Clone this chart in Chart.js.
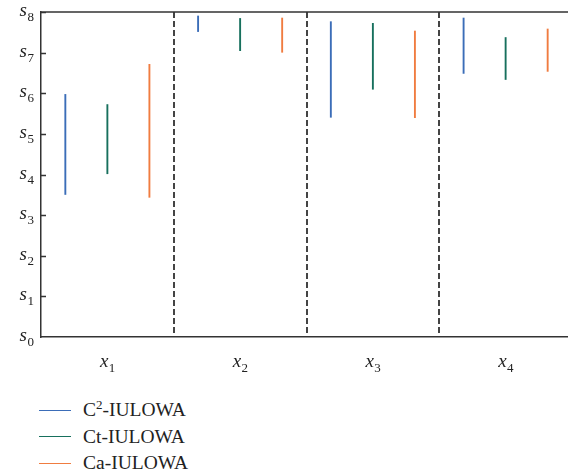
<!DOCTYPE html>
<html>
<head>
<meta charset="utf-8">
<script src="https://cdn.jsdelivr.net/npm/chart.js@4/dist/chart.umd.min.js"></script>
<style>
  html, body { margin: 0; padding: 0; background: #fff; overflow: hidden; }
  #wrap { position: relative; width: 572px; height: 475px; }
  #legend { position: absolute; left: 39px; top: 397px; font-family: "Liberation Serif", serif; font-size: 19.5px; color: #222; }
  .row { height: 26.6px; display: flex; align-items: center; }
  .swatch { width: 32px; height: 0; border-top: 1.5px solid; margin-right: 12px; }
  sup { font-size: 13px; vertical-align: 7px; line-height: 0; }
</style>
</head>
<body>
<div id="wrap">
  <canvas id="chart" width="572" height="385"></canvas>
  <div id="legend"></div>
</div>
<script>
// categories and tick labels (letter + subscript)
const categories = ['x1', 'x2', 'x3', 'x4'];
const yTickLabels = ['s0', 's1', 's2', 's3', 's4', 's5', 's6', 's7', 's8'];

// series: [low, high] interval per category
const seriesNames = ['C²-IULOWA', 'Ct-IULOWA', 'Ca-IULOWA'];
const seriesColors = ['#3b6db8', '#17705d', '#f07c40'];
const c2Ranges = [[3.50, 5.98], [7.51, 7.91], [5.40, 7.77], [6.48, 7.86]];
const ctRanges = [[4.01, 5.73], [7.04, 7.85], [6.09, 7.73], [6.33, 7.38]];
const caRanges = [[3.43, 6.72], [7.00, 7.86], [5.39, 7.54], [6.53, 7.59]];

const seriesData = [c2Ranges, ctRanges, caRanges];

const serif = '"Liberation Serif", "DejaVu Serif", serif';

// draws the subscripted labels, inward y ticks and the top frame line
const subLabels = {
    id: 'subLabels',
    afterDraw(chart) {
        const ctx = chart.ctx;
        const x = chart.scales.x, y = chart.scales.y;
        const area = chart.chartArea;
        ctx.save();
        ctx.fillStyle = '#222';
        ctx.textBaseline = 'alphabetic';

        // y labels
        yTickLabels.forEach((lab, i) => {
            const py = y.getPixelForValue(i);
            ctx.font = '13px ' + serif;
            const subW = ctx.measureText(lab.slice(1)).width;
            const right = 34;
            ctx.textAlign = 'left';
            ctx.fillText(lab.slice(1), right - subW, py + 9);
            ctx.font = 'italic 19px ' + serif;
            ctx.textAlign = 'right';
            ctx.fillText(lab[0], right - subW - 0.5, py + 4);
        });

        // x labels
        categories.forEach((lab, i) => {
            const px = x.getPixelForValue(i);
            ctx.font = 'italic 19px ' + serif;
            const w1 = ctx.measureText(lab[0]).width;
            ctx.font = '13px ' + serif;
            const w2 = ctx.measureText(lab.slice(1)).width;
            const start = px - (w1 + w2) / 2;
            ctx.textAlign = 'left';
            ctx.font = 'italic 19px ' + serif;
            ctx.fillText(lab[0], start, area.bottom + 30);
            ctx.font = '13px ' + serif;
            ctx.fillText(lab.slice(1), start + w1 + 0.5, area.bottom + 35);
        });

        // inward tick marks and top frame
        ctx.strokeStyle = '#333';
        ctx.lineWidth = 1.5;
        ctx.beginPath();
        for (let i = 1; i < yTickLabels.length; i++) {
            const py = Math.round(y.getPixelForValue(i)) + 0.5;
            ctx.moveTo(area.left, py);
            ctx.lineTo(area.left + 5, py);
        }
        ctx.moveTo(area.left, area.top);
        ctx.lineTo(area.right, area.top);
        ctx.stroke();
        ctx.restore();
    }
};

new Chart(document.getElementById('chart'), {
    type: 'bar',
    data: {
        labels: categories,
        datasets: seriesNames.map((name, i) => ({
            label: name,
            data: seriesData[i],
            backgroundColor: seriesColors[i],
            borderWidth: 0,
            categoryPercentage: 0.95,
            barPercentage: 0.045
        }))
    },
    options: {
        responsive: false,
        animation: false,
        layout: { padding: { top: 12, left: 0, right: 0, bottom: 0 } },
        plugins: { legend: { display: false }, tooltip: { enabled: false } },
        scales: {
            x: {
                offset: true,
                grid: {
                    offset: true,
                    drawTicks: false,
                    lineWidth: 2,
                    color: c => (c.index >= 1 && c.index <= 3) ? '#444' : 'rgba(0,0,0,0)'
                },
                border: { display: true, color: '#333', width: 1.5, dash: [6, 3] },
                ticks: { display: false },
                afterFit: s => { s.height = 48; }
            },
            y: {
                min: 0,
                max: 8,
                ticks: { display: false, stepSize: 1 },
                grid: { display: false },
                border: { display: true, color: '#333', width: 1.5 },
                afterFit: s => { s.width = 41; }
            }
        }
    },
    plugins: [subLabels]
});

// legend below the plot
const legend = document.getElementById('legend');
seriesNames.forEach((name, i) => {
    const row = document.createElement('div');
    row.className = 'row';
    const sw = document.createElement('div');
    sw.className = 'swatch';
    sw.style.borderColor = seriesColors[i];
    const txt = document.createElement('span');
    txt.innerHTML = name.replace('²', '<sup>2</sup>');
    row.appendChild(sw);
    row.appendChild(txt);
    legend.appendChild(row);
});
</script>
</body>
</html>
